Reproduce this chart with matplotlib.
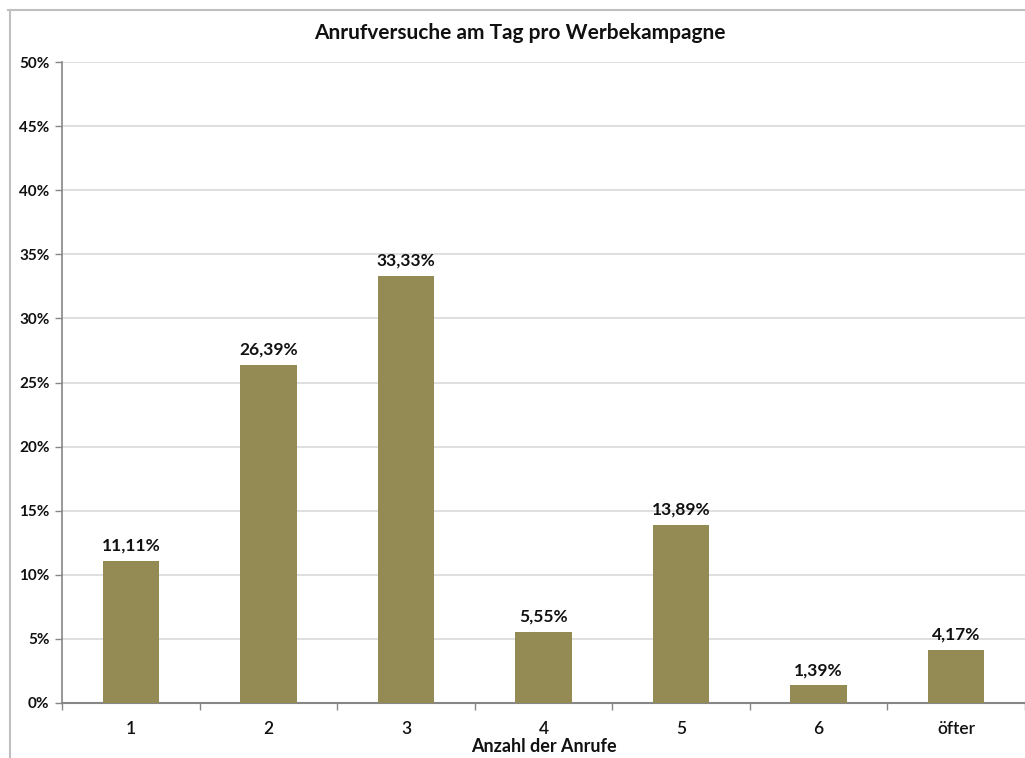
import matplotlib
matplotlib.use("Agg")
import matplotlib.pyplot as plt
from matplotlib.lines import Line2D
import numpy as np

categories = ["1", "2", "3", "4", "5", "6", "öfter"]
values = [11.11, 26.39, 33.33, 5.55, 13.89, 1.39, 4.17]
labels = ["11,11%", "26,39%", "33,33%", "5,55%", "13,89%", "1,39%", "4,17%"]
yticks = [0, 5, 10, 15, 20, 25, 30, 35, 40, 45, 50]
title = "Anrufversuche am Tag pro Werbekampagne"
xlabel = "Anzahl der Anrufe"

plt.rcParams['font.family'] = ['Lato', 'DejaVu Sans']

W, H = 1025, 758
fig = plt.figure(figsize=(W / 100, H / 100), dpi=100)
fig.patch.set_facecolor("white")

# chart frame
fig.add_artist(Line2D([10 / W, 10 / W], [0, 1 - 10 / H], transform=fig.transFigure,
                      color="#BFBFBF", lw=1.5))
fig.add_artist(Line2D([8 / W, 1], [1 - 10 / H, 1 - 10 / H], transform=fig.transFigure,
                      color="#BFBFBF", lw=1.5))

ax = fig.add_axes([62 / W, (H - 703) / H, (1025 - 62) / W, (703 - 62) / H])
x = np.arange(len(categories))
ax.bar(x, values, width=0.41, color="#948A54", zorder=3)
for xi, v, lab in zip(x, values, labels):
    ax.text(xi, v + 0.55, lab, ha="center", va="bottom", fontsize=12.5,
            fontweight="bold", color="#111111")

ax.set_xlim(-0.5, len(categories) - 0.5)
ax.set_ylim(0, 50)
ax.set_yticks(yticks)
ax.set_yticklabels([f"{t}%" for t in yticks], fontsize=11, fontweight="bold", color="#111111")
ax.set_xticks(x)
ax.set_xticklabels(categories, fontsize=12.5, fontweight="semibold", color="#111111")
ax.set_xticks(np.arange(-0.5, len(categories) - 0.5 + 0.01, 1.0), minor=True)
ax.tick_params(axis="x", which="major", length=0, pad=13)
ax.tick_params(axis="x", which="minor", length=5, color="#868686", width=1)
ax.tick_params(axis="y", length=5, color="#868686", width=1, pad=4)

ax.grid(axis="y", color="#D9D9D9", lw=1.2, zorder=0)
for s in ["top", "right"]:
    ax.spines[s].set_visible(False)
ax.spines["left"].set_color("#868686")
ax.spines["bottom"].set_color("#868686")
ax.spines["left"].set_linewidth(1.2)
ax.spines["bottom"].set_linewidth(1.5)

ax.set_xlabel(xlabel, fontsize=13, fontweight="bold", color="#111111", labelpad=1)

fig.text(520 / W, 1 - 33 / H, title, ha="center", va="center", fontsize=15,
         fontweight="bold", color="#111111")

fig.savefig("out.png", dpi=100, facecolor="white")
